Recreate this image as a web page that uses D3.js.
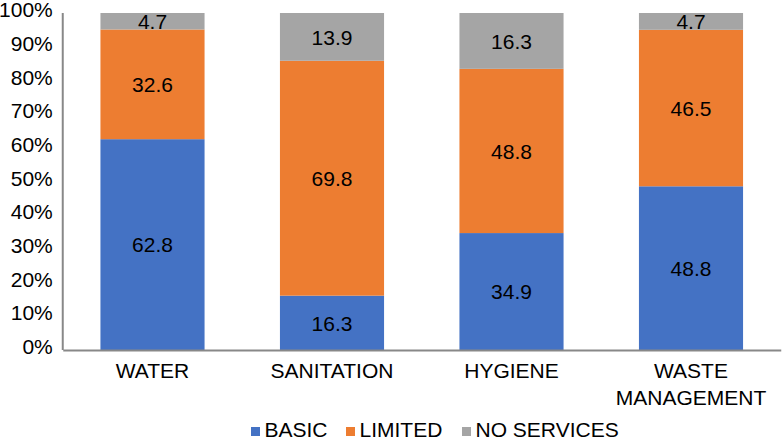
<!DOCTYPE html>
<html><head><meta charset="utf-8">
<script src="https://cdn.jsdelivr.net/npm/d3@7"></script>
<style>body{margin:0;background:#fff}svg{display:block;font-family:Arial,"Liberation Sans",sans-serif}</style>
</head><body><svg id="c" width="782" height="440"></svg>
<script>
const categories = ["WATER", "SANITATION", "HYGIENE", "WASTE MANAGEMENT"];
const seriesNames = ["BASIC", "LIMITED", "NO SERVICES"];
const basic = [62.8, 16.3, 34.9, 48.8];
const limited = [32.6, 69.8, 48.8, 46.5];
const noServices = [4.7, 13.9, 16.3, 4.7];
const yTicks = [0, 10, 20, 30, 40, 50, 60, 70, 80, 90, 100];
const colors = ["#4472C4", "#ED7D31", "#A5A5A5"];

(function() {
const svg = d3.select("#c");
const FS = 21;
const mLeft = 62.75, mRight = 780.75, mTop = 14, mBottom = 350.5, axisY = 350;
const x = d3.scaleBand().domain(categories).range([mLeft, mRight]).paddingInner(0.42).paddingOuter(0.21);
const y = d3.scaleLinear().domain([0, 100]).range([mBottom, mTop]);

const rows = categories.map((c, i) => ({cat: c, "BASIC": basic[i], "LIMITED": limited[i], "NO SERVICES": noServices[i]}));
const stack = d3.stack().keys(seriesNames)(rows);

stack.forEach((layer, li) => {
  const g = svg.append("g");
  g.selectAll("rect").data(layer).join("rect")
    .attr("x", d => x(d.data.cat))
    .attr("width", x.bandwidth())
    .attr("y", d => y(Math.min(d[1], 100)) - (li === 2 ? 1 : 0))
    .attr("height", d => y(d[0]) - y(Math.min(d[1], 100)) + (li === 2 ? 1 : 0))
    .attr("fill", colors[li]);
  g.selectAll("text").data(layer).join("text")
    .attr("x", d => x(d.data.cat) + x.bandwidth() / 2)
    .attr("y", d => (y(d[0]) + y(Math.min(d[1], 100))) / 2)
    .attr("dy", "0.36em")
    .attr("text-anchor", "middle")
    .attr("font-size", FS)
    .attr("fill", "#000")
    .text(d => d.data[layer.key].toFixed(1));
});

const yAxis = d3.axisLeft(y).tickValues(yTicks).tickFormat(d => d + "%").tickSize(0).tickPadding(10);
const ya = svg.append("g").attr("transform", `translate(${mLeft},0)`).call(yAxis);
ya.select(".domain").attr("stroke", "#888").attr("stroke-width", 2).attr("d", `M0,${y(100) - 1}V${axisY}`);
ya.selectAll("text").attr("font-size", FS).attr("fill", "#000").attr("dy", "0.14em")
  .attr("font-family", "Arial, 'Liberation Sans', sans-serif");

const xAxis = d3.axisBottom(x).tickSize(0).tickSizeOuter(0).tickFormat("");
const xa = svg.append("g").attr("transform", `translate(0,${axisY})`).call(xAxis);
xa.select(".domain").attr("stroke", "#888").attr("stroke-width", 2);
xa.selectAll(".tick").each(function(d) {
  const words = d === "WASTE MANAGEMENT" ? ["WASTE", "MANAGEMENT"] : [d];
  const t = d3.select(this).append("text")
    .attr("text-anchor", "middle").attr("font-size", FS).attr("fill", "#000")
    .attr("font-family", "Arial, 'Liberation Sans', sans-serif");
  words.forEach((w, i) => t.append("tspan").attr("x", 0).attr("y", 28 + i * 27).text(w));
});

const legendX = [251, 346, 462];
const lg = svg.append("g");
seriesNames.forEach((n, i) => {
  lg.append("rect").attr("x", legendX[i]).attr("y", 427).attr("width", 9).attr("height", 9).attr("fill", colors[i]);
  lg.append("text").attr("x", legendX[i] + 13.5).attr("y", 437).attr("font-size", FS).attr("fill", "#000").text(n);
});
})();
</script></body></html>
